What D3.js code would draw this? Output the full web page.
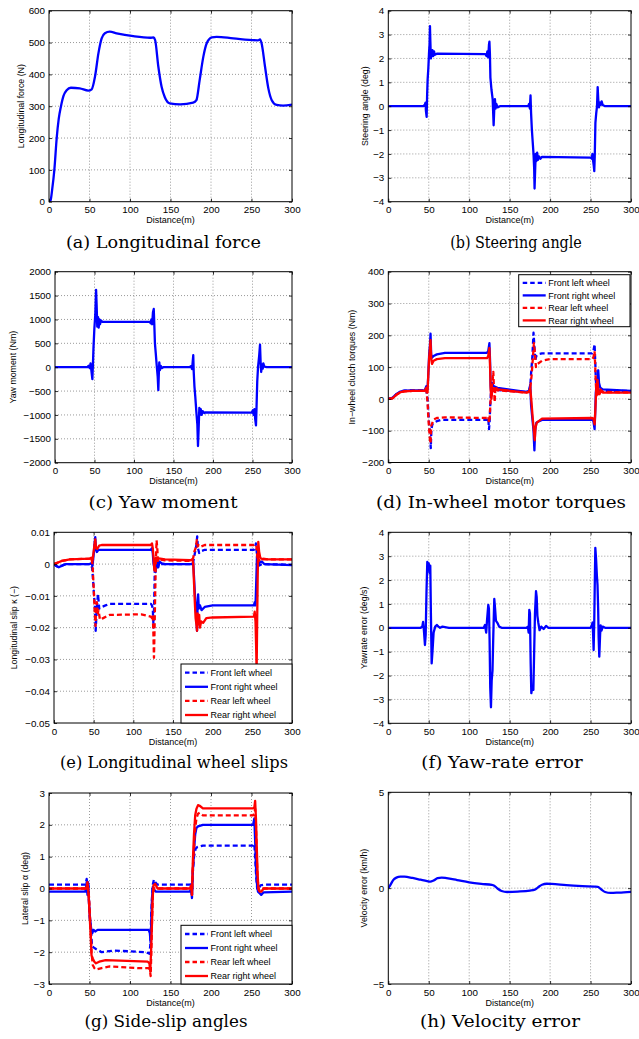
<!DOCTYPE html>
<html>
<head>
<meta charset="utf-8">
<script src="https://cdn.jsdelivr.net/npm/d3@7/dist/d3.min.js"></script>
<style>
  body { margin: 0; background: #fff; }
  svg { display: block; }
  text { font-family: "Liberation Sans", Arial, Helvetica, sans-serif; }
  .caption { font-family: "DejaVu Serif", "Liberation Serif", serif; }
</style>
</head>
<body>
<svg id="fig" width="639" height="1039"></svg>
<script>
// ---- tick labels ----
const distTicks = [0, 50, 100, 150, 200, 250, 300]
const forceTicks = [0, 100, 200, 300, 400, 500, 600]
const steerTicks = [-4, -3, -2, -1, 0, 1, 2, 3, 4]
const momentTicks = [-2000, -1500, -1000, -500, 0, 500, 1000, 1500, 2000]
const torqueTicks = [-200, -100, 0, 100, 200, 300, 400]
const kappaTicks = [-0.05, -0.04, -0.03, -0.02, -0.01, 0, 0.01]
const yawErrTicks = [-4, -3, -2, -1, 0, 1, 2, 3, 4]
const alphaTicks = [-3, -2, -1, 0, 1, 2, 3]
const velTicks = [-5, 0, 5]

const wheelNames = ["Front left wheel", "Front right wheel", "Rear left wheel", "Rear right wheel"]

// ---- series: [distance (m), value] ----
const longForce = [[0,0],[2,5],[4,40],[6.6,100],[9.5,200],[12,260],[14.8,300],[18,333],[21.8,350],[27,358],
  [38,356],[48.5,349],[52.7,353],[56.8,393],[61,466],[65,513],[69,529],[75,534],[83.5,529],[104,520],[125,515],
  [129,516],[131,508],[135,424],[139,361],[143,328],[149,309],[162,306],[178,311],[182,319],[186,382],[190.5,455],
  [194.6,497],[201,516],[207,518],[227.6,513],[258,507],[260.5,510],[262.5,497],[266.7,424],[270.8,356],[275,319],
  [281,304],[289,302],[300,305]]

const steerAngle = [[0,0],[43,0],[45,0.05],[46,0.15],[46.5,-0.2],[47.4,-0.45],[48,0.5],[48.6,1.1],[49.5,1.6],
  [50.3,2.2],[51,2.6],[51.5,3.35],[52,2.7],[52.6,2.0],[53.5,2.15],[54.5,2.35],[55.5,2.1],[56.5,2.3],[57.5,2.15],
  [60,2.2],[120,2.18],[121.5,2.1],[122.5,2.3],[123.5,2.05],[124.5,2.6],[125,2.7],[125.6,2.2],[126.2,1.2],[127.5,0.7],
  [129,0.3],[130.2,-0.8],[131,-0.1],[131.8,0.3],[132.6,-0.1],[133.5,0.1],[135,-0.05],[138,0],[173,0],[174,0.1],
  [175,-0.1],[175.8,0.45],[176.5,-0.3],[177.5,-1.0],[178.5,-1.5],[179.5,-2.0],[180.3,-2.6],[180.8,-3.45],[181.5,-2.7],
  [182.2,-2.0],[183,-2.3],[184,-1.95],[185,-2.25],[186.2,-2.1],[188,-2.2],[190,-2.12],[250,-2.15],[251.5,-2.2],
  [252.3,-2.0],[253.2,-2.3],[254,-2.5],[254.6,-2.72],[255.2,-2.1],[256,-0.7],[257,-0.3],[258,0.0],[258.8,0.8],
  [259.5,0.3],[260.4,-0.05],[261.5,0.15],[262.5,0.05],[263.7,0.2],[265,0.05],[268,0],[300,0]]

const yawMoment = [[0,0],[41,0],[42.5,30],[44,-20],[45,80],[46,-60],[47.3,-250],[48,50],[48.7,400],[49.8,800],
  [51,1100],[52,1620],[52.7,1300],[53.5,850],[54.5,1050],[55.3,830],[56.2,1000],[57,900],[58,980],[60,950],[120,950],
  [121,920],[122,1000],[123,900],[124,1150],[125,1220],[125.7,900],[126.5,500],[127.5,300],[128.7,50],[130,-200],
  [130.8,-480],[131.5,-100],[132,100],[132.8,-60],[133.8,30],[135,-20],[137,0],[170,0],[172,20],[173.5,-40],[175,250],
  [175.6,-100],[176.5,-400],[177.5,-600],[179,-950],[180.2,-1200],[181,-1650],[181.8,-1300],[182.7,-850],[183.5,-1000],
  [184.5,-880],[185.6,-1000],[187,-920],[189,-960],[190,-945],[249,-950],[250.5,-900],[251.5,-1000],[252.5,-880],
  [253.5,-1100],[254.4,-1220],[255,-900],[256,-300],[257,0],[258.5,250],[259.5,470],[260.3,100],[261,-100],[262,50],
  [263,-30],[263.7,80],[265,10],[268,0],[300,0]]

const frontLeftTorque = [[0,0],[5,3],[10,15],[15,23],[20,26],[30,27],[45,27],[47,30],[48.5,0],[49.5,-40],[50.5,-80],
  [51.5,-100],[52.5,-155],[53.3,-95],[54.5,-80],[56,-75],[60,-70],[65,-66],[122,-66],[123.5,-60],[124.5,-95],
  [125.3,-70],[126,-20],[127,25],[128,20],[130,30],[135,28],[170,22],[174,25],[175.5,40],[176.5,80],[178,130],
  [179.5,208],[180.5,170],[181.5,120],[183,135],[185,140],[190,143],[252,143],[253.5,150],[255,172],[255.8,120],
  [256.5,60],[257.5,30],[259,20],[262,28],[270,25],[300,25]]
const frontRightTorque = [[0,0],[5,3],[10,15],[15,23],[20,26],[30,27],[45,27],[47,40],[48.5,30],[49.5,80],[50.5,140],
  [51.5,170],[52.2,205],[53,140],[54,130],[56,135],[60,140],[70,145],[122,145],[123.5,150],[125,175],[125.8,120],
  [126.5,40],[127.5,10],[128.5,50],[130,40],[135,35],[170,22],[174,25],[175.5,45],[176.5,-20],[178,-60],[179.5,-100],
  [180.6,-162],[181.5,-100],[183,-75],[185,-72],[190,-66],[252,-65],[253.5,-70],[255,-95],[255.8,-40],[256.5,20],
  [258,60],[259.5,90],[260.5,50],[262,35],[265,30],[300,25]]
const rearLeftTorque = [[0,0],[5,2],[10,13],[15,21],[20,24],[30,25],[45,25],[47,30],[48.5,-10],[49.5,-60],[50.5,-95],
  [51.5,-130],[52.3,-140],[53,-85],[54.5,-75],[56,-65],[60,-60],[70,-58],[122,-60],[123.5,-55],[124.5,-75],[125.3,-60],
  [126.5,0],[127.5,30],[129,60],[129.8,85],[130.5,40],[131.5,-10],[132.5,40],[135,27],[170,20],[174,22],[175.5,35],
  [177,70],[178.5,120],[180,175],[181,150],[182.5,100],[184.5,110],[190,120],[200,125],[252,125],[253.5,130],
  [255,150],[255.8,100],[256.5,50],[257.5,5],[258.5,30],[260,15],[262,30],[265,22],[300,20]]
const rearRightTorque = [[0,0],[5,2],[10,13],[15,21],[20,24],[30,25],[45,25],[47,35],[48.5,20],[49.5,80],[50.5,130],
  [51.5,160],[52.2,185],[53,130],[54,110],[56,120],[60,125],[70,128],[122,128],[123.5,135],[125,160],[125.8,100],
  [126.5,30],[127.5,0],[128.5,30],[130,25],[135,30],[170,20],[174,22],[175.5,35],[177,-10],[178.5,-60],[180,-100],
  [181,-130],[182,-90],[183.5,-75],[186,-70],[190,-62],[252,-60],[253.5,-62],[255,-80],[256,-30],[257,30],[258.5,60],
  [259.5,30],[261,15],[263,25],[265,20],[300,20]]

const frontLeftSlip = [[0,0],[3,-0.0006],[6,-0.001],[10,-0.0005],[15,0],[45,0],[48,-0.001],[49.5,-0.006],
  [50.5,-0.01],[51.5,-0.013],[52.5,-0.021],[53.5,-0.016],[54.5,-0.012],[55.5,-0.0095],[57,-0.014],[60,-0.0135],
  [65,-0.013],[70,-0.0125],[122,-0.0125],[123.5,-0.013],[124.5,-0.014],[125.5,-0.02],[126.3,-0.012],[127,-0.002],
  [128,0.001],[130,-0.001],[133,0],[175,0],[176.5,0.002],[178,0.004],[179.5,0.006],[180.5,0.0087],[181.5,0.005],
  [183,0.0035],[185,0.004],[190,0.0045],[252,0.0045],[253.5,0.005],[254.5,0.0065],[255.5,0.004],[256.5,0],
  [258,-0.0005],[262,0],[300,-0.0002]]
const frontRightSlip = [[0,0],[3,-0.0006],[6,-0.001],[10,-0.0005],[15,0],[45,0],[47,0.0003],[48.5,-0.0005],
  [50,0.003],[51,0.006],[52,0.0085],[53,0.0045],[54,0.0038],[56,0.0045],[60,0.0045],[122,0.0045],[123.5,0.005],
  [124.5,0.0035],[125.5,0],[126.5,-0.001],[128,-0.0025],[129,-0.0005],[130,0.001],[131.5,-0.001],[133,0.0008],
  [136,0.0002],[140,0],[174,0],[175.5,0.0005],[176.5,-0.004],[177.5,-0.009],[178.5,-0.013],[179.5,-0.017],
  [180.3,-0.021],[181,-0.013],[181.7,-0.0095],[182.5,-0.014],[184,-0.013],[186,-0.0145],[190,-0.0135],[200,-0.013],
  [252,-0.013],[253,-0.012],[254,-0.013],[255,-0.005],[255.8,0.002],[256.5,0.005],[257.5,0],[259,0.0005],
  [262,0.0008],[265,0],[300,-0.0003]]
const rearLeftSlip = [[0,0],[5,0.0005],[10,0.001],[20,0.0015],[45,0.0017],[47,0.002],[48.5,0],[49.5,-0.005],
  [50.5,-0.01],[51.3,-0.015],[52.3,-0.0195],[53,-0.014],[54,-0.012],[55,-0.016],[56,-0.0145],[58,-0.0175],
  [62,-0.017],[70,-0.016],[110,-0.0158],[122,-0.0165],[123.5,-0.017],[124.5,-0.016],[125.3,-0.022],[126,-0.0295],
  [126.8,-0.02],[127.5,-0.01],[128.3,0],[129.3,0.0075],[130.2,0.005],[131,0.001],[133,0.0015],[140,0.0012],
  [172,0.001],[174,0.0012],[175.5,0.002],[177,0.004],[178.5,0.005],[180,0.0075],[181,0.0055],[182.5,0.006],
  [185,0.0055],[190,0.006],[252,0.006],[254,0.0062],[255,0.006],[256,0.003],[257,0.0005],[258.5,0.0012],
  [262,0.0018],[270,0.0015],[300,0.0015]]
const rearRightSlip = [[0,0],[5,0.0005],[10,0.001],[20,0.0015],[45,0.0017],[47,0.002],[48.5,0.001],[50,0.004],
  [51,0.006],[52,0.0078],[53,0.005],[54.5,0.0048],[57,0.0058],[60,0.006],[122,0.006],[123.5,0.0065],[124.5,0.005],
  [125.5,0.002],[126.5,-0.002],[127.5,0],[128.5,0.002],[130,0.001],[132,0.0018],[140,0.0015],[172,0.0012],
  [174.5,0.0015],[175.5,0],[176.5,-0.006],[177.5,-0.012],[178.5,-0.017],[179.5,-0.019],[180.3,-0.021],[181,-0.0155],
  [182,-0.019],[183,-0.016],[184,-0.02],[185.5,-0.018],[188,-0.0185],[192,-0.017],[200,-0.0168],[252,-0.0165],
  [253,-0.015],[254,-0.018],[254.8,-0.026],[255.4,-0.034],[256,-0.02],[256.7,-0.005],[257.5,0.007],[258.5,0.004],
  [260,0.002],[263,0.0015],[300,0.0015]]

const yawRateErr = [[0,0],[40,0],[42,0.05],[43,0.25],[44,-0.1],[45.3,-0.72],[46.2,-0.3],[47.2,1.5],[48.2,2.76],
  [49,2.5],[50,2.7],[51,2.3],[51.9,2.6],[52.7,0.5],[53.6,-1.49],[54.6,-1.0],[56,-0.2],[58,0.05],[60,0.12],[62,0.05],
  [64,0],[67,0.05],[70,0.03],[75,0],[118,0],[119.5,0.12],[121,-0.2],[122,0.3],[123.6,0.96],[124.4,0.8],[125.2,-0.5],
  [126,-2.5],[126.9,-3.33],[127.8,-2.2],[128.8,-1.8],[129.8,-0.3],[131,1.21],[132,0.8],[133,0.3],[135,0.2],
  [137,0.05],[140,0],[171,0],[172.5,0.05],[173.5,-0.2],[174.3,0.75],[175.1,0.6],[176,-1.5],[176.8,-2.74],
  [177.8,-2.5],[179.3,-2.6],[180.3,-1.0],[181.3,0.6],[182.6,1.53],[183.4,1.3],[184.3,0.5],[185.5,0.2],[187,-0.1],
  [189,0.05],[192,-0.05],[195,0.08],[198,0],[250,0],[251.5,0.1],[252.5,0.22],[253.2,-0.3],[253.8,-0.93],
  [254.6,0.3],[255.3,2.0],[255.9,3.35],[256.8,2.9],[257.8,2.2],[258.6,1.8],[259.4,0.8],[260,-0.4],[260.8,-1.21],
  [261.8,-0.3],[262.5,0.1],[263.5,-0.12],[265,0.05],[268,0],[300,0]]

const frontLeftAlpha = [[0,0.12],[45,0.12],[46.5,0.3],[47.5,0.1],[48.5,0.25],[49.5,-0.5],[50.5,-1.0],[52,-1.3],
  [53,-1.8],[55,-1.85],[58,-1.9],[65,-2.0],[80,-1.95],[120,-2.0],[124,-2.05],[125,-1.8],[126,-1.0],[127,-0.4],
  [128,0.1],[129.5,0.28],[131,0.2],[134,0.12],[174,0.12],[175.5,0.2],[176.5,-0.2],[177.5,0.5],[179,1.0],[181,1.25],
  [183,1.3],[190,1.35],[252,1.35],[253.5,1.4],[254.5,1.0],[255.5,0.5],[257,0],[258.5,-0.05],[261,0.1],[265,0.12],
  [300,0.12]]
const frontRightAlpha = [[0,-0.1],[45,-0.1],[46.5,0.2],[47.5,-0.2],[48.5,0.1],[49.5,-0.5],[50.5,-0.9],[52,-1.25],
  [53.5,-1.4],[55,-1.3],[57,-1.35],[60,-1.3],[123,-1.3],[124.5,-1.4],[125.5,-1.7],[126.3,-1.0],[127.2,-0.3],
  [128.2,0.05],[130,-0.05],[132,-0.1],[174,-0.1],[175.5,0],[176.5,-0.3],[177.5,0.5],[179,1.2],[180.5,1.7],[182,1.9],
  [184,1.95],[190,2.0],[252,2.0],[253.5,2.2],[254.5,1.5],[255.5,0.7],[256.5,0.2],[258,-0.1],[260,-0.15],[262,-0.2],
  [265,-0.12],[300,-0.1]]
const rearLeftAlpha = [[0,0],[46,0],[47.5,0.1],[48.5,0],[49.5,-0.3],[50.5,-0.8],[51.5,-1.4],[52.5,-2.0],[54,-2.4],
  [56,-2.5],[58,-2.55],[65,-2.5],[75,-2.45],[110,-2.5],[123,-2.5],[124.5,-2.55],[125.5,-2.75],[126.3,-2.0],
  [127.2,-1.0],[128.2,-0.2],[129.5,0],[132,0],[174,0],[175.5,0.05],[176.5,-0.2],[177.5,0.6],[179,1.3],[180.5,1.9],
  [182,2.2],[184,2.35],[186,2.38],[190,2.3],[252,2.3],[253.5,2.35],[254.5,2.5],[255.5,2.0],[256.5,1.0],[257.5,0.3],
  [259,-0.05],[261,-0.05],[264,0],[300,0]]
const rearRightAlpha = [[0,0],[46,0],[47.5,0.2],[48.5,-0.1],[49.5,-0.5],[50.5,-1.0],[51.5,-1.5],[52.5,-2.1],
  [54,-2.2],[56,-2.3],[58,-2.35],[62,-2.3],[70,-2.25],[122,-2.3],[124,-2.35],[125,-2.6],[126,-2.0],[127,-1.2],
  [128,-0.3],[129,0.1],[131,0.15],[134,0],[174,0],[175.5,0.1],[176.5,-0.2],[177.5,0.8],[179,1.7],[180.5,2.3],
  [182,2.5],[184,2.62],[186,2.6],[190,2.52],[252,2.52],[253.5,2.55],[254.5,2.75],[255.5,2.2],[256.5,1.3],
  [257.5,0.5],[258.5,0],[260,-0.1],[262,-0.1],[265,0],[300,0]]

const velocityErr = [[0,0],[3,0.2],[6,0.42],[10,0.55],[15,0.6],[20,0.6],[30,0.53],[40,0.44],[48,0.37],[52,0.34],
  [56,0.4],[61,0.52],[66,0.55],[72,0.52],[85,0.42],[100,0.3],[115,0.22],[128,0.17],[131,0.13],[135,-0.02],
  [140,-0.15],[147,-0.2],[160,-0.18],[175,-0.13],[181,-0.08],[185,0.04],[190,0.18],[196,0.23],[202,0.22],
  [220,0.16],[240,0.11],[255,0.08],[259,0.07],[263,-0.06],[268,-0.2],[275,-0.25],[285,-0.23],[300,-0.19]]

// ---- layout ----
const BLUE = "#0000ff", RED = "#ff0000"
const svg = d3.select("#fig")
const fmt = d3.format("~g")

const wheelSeries = (fl, fr, rl, rr) => [
  { data: fl, color: BLUE, dash: "5,3" },
  { data: fr, color: BLUE },
  { data: rl, color: RED, dash: "5,3" },
  { data: rr, color: RED }
]

const panels = [
  { box: [49, 10.7, 292, 201.7], dom: [0, 600], ticks: forceTicks, label: "Longitudinal force (N)", lx: 20.7,
    series: [{ data: longForce, color: BLUE, smooth: true }], caption: "(a) Longitudinal force", cx: 163.4, cy: 248, cw: 195 },
  { box: [388.3, 10.7, 631, 201.7], dom: [-4, 4], ticks: steerTicks, label: "Steering angle (deg)", lx: 365,
    series: [{ data: steerAngle, color: BLUE }], caption: "(b) Steering angle", cx: 516, cy: 248, cw: 131.7 },
  { box: [55, 271.7, 292, 462.7], dom: [-2000, 2000], ticks: momentTicks, label: "Yaw moment (Nm)", lx: 13,
    series: [{ data: yawMoment, color: BLUE }], caption: "(c) Yaw moment", cx: 163, cy: 508.3, cw: 149 },
  { box: [388.3, 271.7, 631, 462.5], dom: [-200, 400], ticks: torqueTicks, label: "In\u2212wheel clutch torques (Nm)", lx: 351.7,
    series: wheelSeries(frontLeftTorque, frontRightTorque, rearLeftTorque, rearRightTorque),
    legend: { x: 518.7, y: 274.7, w: 111.3, h: 52, step: 12.5, first: 8.2 },
    caption: "(d) In-wheel motor torques", cx: 501, cy: 508.3, cw: 250 },
  { box: [54, 532.3, 292, 723], dom: [-0.05, 0.01], ticks: kappaTicks, label: "Longitudinal slip \u03ba (\u2212)", lx: 14,
    series: wheelSeries(frontLeftSlip, frontRightSlip, rearLeftSlip, rearRightSlip),
    legend: { x: 181, y: 664, w: 111, h: 59, step: 14.1, first: 8.7 },
    caption: "(e) Longitudinal wheel slips", cx: 174, cy: 768.3, cw: 228 },
  { box: [388.3, 532.3, 631, 723.3], dom: [-4, 4], ticks: yawErrTicks, label: "Yawrate error (deg/s)", lx: 364.3,
    series: [{ data: yawRateErr, color: BLUE }], caption: "(f) Yaw-rate error", cx: 502, cy: 768.3, cw: 161.3 },
  { box: [49, 793, 292, 984], dom: [-3, 3], ticks: alphaTicks, label: "Lateral slip \u03b1 (deg)", lx: 25,
    series: wheelSeries(frontLeftAlpha, frontRightAlpha, rearLeftAlpha, rearRightAlpha),
    legend: { x: 181, y: 925.3, w: 111, h: 58.7, step: 14, first: 8.7 },
    caption: "(g) Side-slip angles", cx: 166, cy: 1027.3, cw: 163 },
  { box: [388.3, 792.3, 631, 984], dom: [-5, 5], ticks: velTicks, label: "Velocity error (km/h)", lx: 364.3,
    series: [{ data: velocityErr, color: BLUE, smooth: true }], caption: "(h) Velocity error", cx: 500, cy: 1027.3, cw: 160 }
]

panels.forEach((p, i) => {
  const [x0, y0, x1, y1] = p.box
  const x = d3.scaleLinear().domain([0, 300]).range([x0, x1])
  const y = d3.scaleLinear().domain(p.dom).range([y1, y0])
  const g = svg.append("g")

  // dotted grid
  const grid = g.append("g")
    .attr("stroke", "#808080")
    .attr("stroke-width", 0.8)
    .attr("stroke-dasharray", "1,2")
  grid.selectAll(".gx").data(distTicks.slice(1, -1)).join("line")
    .attr("x1", d => x(d)).attr("x2", d => x(d)).attr("y1", y0).attr("y2", y1)
  grid.selectAll(".gy").data(p.ticks.slice(1, -1)).join("line")
    .attr("x1", x0).attr("x2", x1).attr("y1", d => y(d)).attr("y2", d => y(d))

  // data lines
  g.append("clipPath").attr("id", "clip" + i)
    .append("rect").attr("x", x0).attr("y", y0).attr("width", x1 - x0).attr("height", y1 - y0)

  const plot = g.append("g").attr("clip-path", `url(#clip${i})`)
  p.series.forEach(s => {
    const line = d3.line()
      .x(d => x(d[0]))
      .y(d => y(d[1]))
      .curve(s.smooth ? d3.curveMonotoneX : d3.curveLinear)
    plot.append("path")
      .attr("d", line(s.data))
      .attr("fill", "none")
      .attr("stroke", s.color)
      .attr("stroke-width", 2.3)
      .attr("stroke-linejoin", "round")
      .attr("stroke-dasharray", s.dash || null)
  })

  // axes with inward ticks
  g.append("g")
    .attr("transform", `translate(0,${y1})`)
    .call(d3.axisBottom(x).tickValues(distTicks).tickSize(-3).tickPadding(4.6))
  g.append("g")
    .attr("transform", `translate(${x0},0)`)
    .call(d3.axisLeft(y).tickValues(p.ticks).tickSize(-3).tickPadding(4).tickFormat(fmt))
  g.append("g").attr("transform", `translate(0,${y0})`)
    .call(d3.axisTop(x).tickValues(distTicks).tickSize(-3).tickFormat(""))
  g.append("g").attr("transform", `translate(${x1},0)`)
    .call(d3.axisRight(y).tickValues(p.ticks).tickSize(-3).tickFormat(""))
  g.selectAll(".domain").remove()
  g.selectAll(".tick line").attr("stroke", "#000").attr("stroke-width", 0.8)
  g.selectAll(".tick text").attr("font-size", 9.8).attr("fill", "#000")
    .attr("font-family", "'Liberation Sans', Arial, sans-serif")

  // box
  g.append("rect")
    .attr("x", x0).attr("y", y0).attr("width", x1 - x0).attr("height", y1 - y0)
    .attr("fill", "none").attr("stroke", "#000").attr("stroke-width", 1)

  // legend
  if (p.legend) {
    const L = p.legend
    const lg = g.append("g").attr("transform", `translate(${L.x},${L.y})`)
    lg.append("rect").attr("width", L.w).attr("height", L.h)
      .attr("fill", "#fff").attr("stroke", "#000").attr("stroke-width", 1)
    p.series.forEach((s, k) => {
      const yy = L.first + k * L.step
      lg.append("line")
        .attr("x1", 4).attr("x2", 27).attr("y1", yy).attr("y2", yy)
        .attr("stroke", s.color).attr("stroke-width", 2.3)
        .attr("stroke-dasharray", s.dash ? "4.5,3" : null)
      lg.append("text")
        .attr("x", 29.5).attr("y", yy).attr("dy", "0.35em")
        .attr("font-size", 9).text(wheelNames[k])
    })
  }

  // axis labels
  g.append("text")
    .attr("x", (x0 + x1) / 2).attr("y", y1 + 21.5)
    .attr("text-anchor", "middle").attr("font-size", 9)
    .text("Distance(m)")
  g.append("text")
    .attr("transform", `translate(${p.lx},${(y0 + y1) / 2}) rotate(-90)`)
    .attr("text-anchor", "middle").attr("dy", "0.35em").attr("font-size", 8.8)
    .text(p.label)

  // caption
  g.append("text")
    .attr("class", "caption")
    .attr("x", p.cx).attr("y", p.cy)
    .attr("text-anchor", "middle").attr("font-size", 17)
    .attr("textLength", p.cw).attr("lengthAdjust", "spacingAndGlyphs")
    .text(p.caption)
})
</script>
</body>
</html>
